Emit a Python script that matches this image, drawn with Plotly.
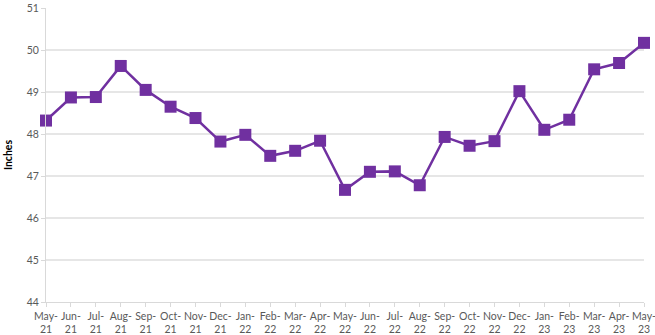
import plotly.graph_objects as go

months = ["May-<br>21", "Jun-<br>21", "Jul-<br>21", "Aug-<br>21", "Sep-<br>21", "Oct-<br>21", "Nov-<br>21",
          "Dec-<br>21", "Jan-<br>22", "Feb-<br>22", "Mar-<br>22", "Apr-<br>22", "May-<br>22", "Jun-<br>22",
          "Jul-<br>22", "Aug-<br>22", "Sep-<br>22", "Oct-<br>22", "Nov-<br>22", "Dec-<br>22", "Jan-<br>23",
          "Feb-<br>23", "Mar-<br>23", "Apr-<br>23", "May-<br>23"]
inches = [48.32, 48.87, 48.88, 49.62, 49.05, 48.65, 48.38, 47.82, 47.98, 47.48, 47.6, 47.84,
          46.67, 47.1, 47.11, 46.78, 47.93, 47.72, 47.83, 49.02, 48.1, 48.34, 49.54, 49.69, 50.17]
y_ticks = [44, 45, 46, 47, 48, 49, 50, 51]

idx = list(range(len(months)))

fig = go.Figure(go.Scatter(
    x=idx, y=inches, mode="lines+markers",
    line=dict(color="#7030A0", width=2.5),
    marker=dict(symbol="square", size=12, color="#7030A0"),
    cliponaxis=False,
))

font_tick = dict(family="Lato, Open Sans, sans-serif", size=10.5, color="#595959")
fig.update_layout(
    width=655, height=335,
    margin=dict(l=46, r=11, t=8, b=33),
    paper_bgcolor="white", plot_bgcolor="white",
    showlegend=False,
    xaxis=dict(
        tickmode="array", tickvals=idx, ticktext=months,
        range=[0, len(months) - 1],
        automargin=False, ticklabeloverflow="allow",
        showgrid=False, zeroline=False,
        showline=True, linecolor="#d9d9d9", linewidth=1,
        ticks="outside", ticklen=4, tickcolor="#d9d9d9",
        tickfont=font_tick, tickangle=0,
    ),
    yaxis=dict(
        tickmode="array", tickvals=y_ticks,
        range=[44, 51],
        automargin=False,
        showgrid=True, gridcolor="#e6e6e6", gridwidth=1.5,
        zeroline=False,
        showline=True, linecolor="#d9d9d9", linewidth=1,
        ticks="outside", ticklen=4, tickcolor="#d9d9d9",
        tickfont=font_tick,
        title=dict(text="<b>Inches</b>", font=dict(family="Lato, Open Sans, sans-serif", size=10.5, color="#000000"), standoff=12),
    ),
)

fig.write_html("out.html", config={"displayModeBar": False})
